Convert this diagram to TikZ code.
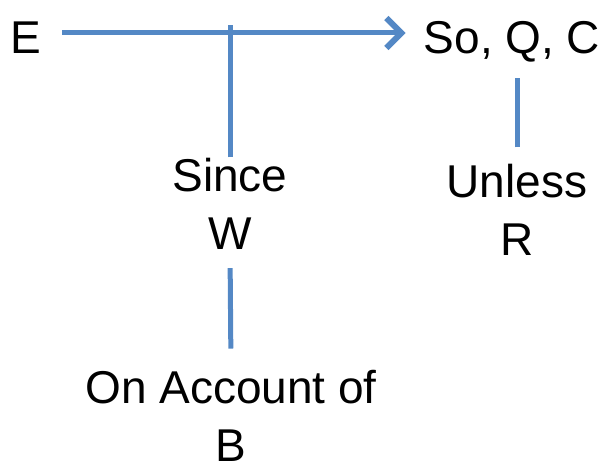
\documentclass[tikz,border=0pt]{standalone}
\usepackage{fontspec}
\setmainfont{Liberation Sans}
\usetikzlibrary{arrows.meta}
\definecolor{linkblue}{RGB}{84,136,197}

\begin{document}
\begin{tikzpicture}[x=1pt, y=-1pt,
  label/.style={font=\fontsize{46}{58}\selectfont, inner sep=0pt, align=center},
  link/.style={line width=5pt, linkblue}]
\useasboundingbox (0,0) rectangle (608,468);

% Evidence and claim
\node[label, anchor=base west, text height=32pt, text depth=0pt] (evidence) at (10,54) {E};
\node[label, anchor=base, text height=32pt, text depth=0pt] (claim) at (512,54) {So, Q, C};
\draw[link, -{Straight Barb[length=15pt,width=30pt,line width=6pt]}, shorten <=21pt, shorten >=18pt]
  ([yshift=5pt]evidence.east) -- ([yshift=5pt]claim.west);

% Warrant
\node[label, anchor=base] (warrant) at (230,249) {Since\\W};
\coordinate (join) at (231,25);
\draw[link] (warrant.north) -- (warrant.north |- join);

% Backing
\node[label, anchor=base] (backing) at (231,461) {On Account of\\B};
\draw[link, shorten <=19pt, shorten >=21pt] (warrant.south) -- (backing.north);

% Rebuttal
\node[label, anchor=base] (rebuttal) at (517,255) {Unless\\R};
\draw[link, shorten <=16pt, shorten >=24pt] (rebuttal.north) -- (rebuttal.north |- claim.south);
\end{tikzpicture}
\end{document}
